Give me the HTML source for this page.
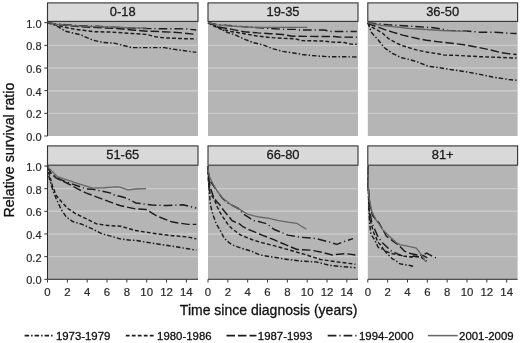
<!DOCTYPE html><html><head><meta charset="utf-8"><style>html,body{margin:0;padding:0;background:#fff;}svg{display:block;will-change:transform;}text{font-family:"Liberation Sans",sans-serif;}</style></head><body>
<svg width="520" height="343" viewBox="0 0 520 343">
<rect x="0" y="0" width="520" height="343" fill="#fff"/>
<rect x="47.5" y="21.4" width="150.5" height="114.60" fill="#b5b5b5"/>
<rect x="47.5" y="2.9" width="150.5" height="18.50" fill="#d9d9d9" stroke="#333333" stroke-width="1.1"/>
<text x="122.75" y="15.65" font-size="12.9" text-anchor="middle" fill="#1a1a1a" stroke="#1a1a1a" stroke-width="0.3">0-18</text>
<line x1="47.5" x2="198.0" y1="113.34" y2="113.34" stroke="#cbcbcb" stroke-width="1.4"/>
<line x1="47.5" x2="198.0" y1="90.68" y2="90.68" stroke="#cbcbcb" stroke-width="1.4"/>
<line x1="47.5" x2="198.0" y1="68.02" y2="68.02" stroke="#cbcbcb" stroke-width="1.4"/>
<line x1="47.5" x2="198.0" y1="45.36" y2="45.36" stroke="#cbcbcb" stroke-width="1.4"/>
<polyline points="47.50,22.70 52.46,23.83 57.42,26.44 61.39,28.70 65.36,31.20 70.32,32.44 75.28,33.46 80.24,34.60 84.20,36.41 93.13,40.26 103.05,42.41 113.96,43.09 122.89,45.36 131.82,47.63 164.56,47.63 172.49,49.10 181.42,50.35 192.33,51.82 196.30,52.38" fill="none" stroke="#1c1c1c" stroke-width="1.45" stroke-dasharray="4.5 2 1.5 2" stroke-linejoin="round"/>
<polyline points="47.50,22.70 57.42,25.53 68.83,28.03 76.27,29.50 83.21,30.29 95.12,31.76 110.00,31.99 118.92,32.56 131.82,33.46 141.74,34.03 146.70,34.48 155.63,36.75 161.58,37.54 167.53,38.00 184.40,38.68 196.30,38.90" fill="none" stroke="#1c1c1c" stroke-width="1.45" stroke-dasharray="3.8 2.2" stroke-linejoin="round"/>
<polyline points="47.50,22.70 57.42,24.40 67.34,25.53 80.24,26.67 97.10,27.57 116.94,28.59 131.82,29.95 146.70,31.20 159.60,31.54 170.51,32.10 182.41,32.90 193.32,34.14 196.30,34.37" fill="none" stroke="#1c1c1c" stroke-width="1.45" stroke-dasharray="8.5 3" stroke-linejoin="round"/>
<polyline points="47.50,22.70 57.42,24.06 77.26,25.53 97.10,26.33 116.94,27.46 131.82,28.14 146.70,28.59 166.54,28.70 186.38,28.93 196.30,30.06" fill="none" stroke="#1c1c1c" stroke-width="1.45" stroke-dasharray="8.7 3 1.2 3" stroke-linejoin="round"/>
<polyline points="47.50,22.70 57.42,24.40 77.26,25.87 97.10,26.67 116.94,27.23 131.82,27.80 146.70,28.14" fill="none" stroke="#666" stroke-width="1.3" stroke-linejoin="round"/>
<rect x="208.0" y="21.4" width="150.0" height="114.60" fill="#b5b5b5"/>
<rect x="208.0" y="2.9" width="150.0" height="18.50" fill="#d9d9d9" stroke="#333333" stroke-width="1.1"/>
<text x="283.00" y="15.65" font-size="12.9" text-anchor="middle" fill="#1a1a1a" stroke="#1a1a1a" stroke-width="0.3">19-35</text>
<line x1="208.0" x2="358.0" y1="113.34" y2="113.34" stroke="#cbcbcb" stroke-width="1.4"/>
<line x1="208.0" x2="358.0" y1="90.68" y2="90.68" stroke="#cbcbcb" stroke-width="1.4"/>
<line x1="208.0" x2="358.0" y1="68.02" y2="68.02" stroke="#cbcbcb" stroke-width="1.4"/>
<line x1="208.0" x2="358.0" y1="45.36" y2="45.36" stroke="#cbcbcb" stroke-width="1.4"/>
<polyline points="208.00,22.70 214.94,25.19 220.90,29.04 226.55,32.10 235.78,35.16 244.21,39.13 253.43,42.64 264.25,45.36 273.47,48.87 282.70,51.36 293.31,52.95 302.24,54.42 312.16,55.56 327.04,56.69 356.80,56.92" fill="none" stroke="#1c1c1c" stroke-width="1.45" stroke-dasharray="4.5 2 1.5 2" stroke-linejoin="round"/>
<polyline points="208.00,22.70 213.95,26.10 220.90,29.04 230.82,31.42 244.21,33.69 256.61,35.96 270.50,37.54 282.40,38.34 295.30,38.79 301.25,40.60 324.06,41.05 332.00,42.07 343.90,42.41 350.85,44.11 356.80,44.23" fill="none" stroke="#1c1c1c" stroke-width="1.45" stroke-dasharray="3.8 2.2" stroke-linejoin="round"/>
<polyline points="208.00,22.70 217.92,26.78 231.81,29.38 244.21,31.76 257.60,32.90 270.50,33.69 282.40,34.48 292.32,36.30 333.98,36.52 338.94,37.09 356.80,37.20" fill="none" stroke="#1c1c1c" stroke-width="1.45" stroke-dasharray="8.5 3" stroke-linejoin="round"/>
<polyline points="208.00,22.70 216.93,24.63 235.78,26.10 252.64,27.23 264.54,28.14 284.38,29.38 295.30,29.38 299.76,30.06 324.06,30.06 331.01,31.42 356.80,31.54" fill="none" stroke="#1c1c1c" stroke-width="1.45" stroke-dasharray="8.7 3 1.2 3" stroke-linejoin="round"/>
<polyline points="208.00,22.70 216.93,24.97 235.78,26.33 252.64,27.23 264.54,27.46 284.38,27.46 307.20,27.46" fill="none" stroke="#666" stroke-width="1.3" stroke-linejoin="round"/>
<rect x="367.8" y="21.4" width="149.8" height="114.60" fill="#b5b5b5"/>
<rect x="367.8" y="2.9" width="149.8" height="18.50" fill="#d9d9d9" stroke="#333333" stroke-width="1.1"/>
<text x="442.70" y="15.65" font-size="12.9" text-anchor="middle" fill="#1a1a1a" stroke="#1a1a1a" stroke-width="0.3">36-50</text>
<line x1="367.8" x2="517.6" y1="113.34" y2="113.34" stroke="#cbcbcb" stroke-width="1.4"/>
<line x1="367.8" x2="517.6" y1="90.68" y2="90.68" stroke="#cbcbcb" stroke-width="1.4"/>
<line x1="367.8" x2="517.6" y1="68.02" y2="68.02" stroke="#cbcbcb" stroke-width="1.4"/>
<line x1="367.8" x2="517.6" y1="45.36" y2="45.36" stroke="#cbcbcb" stroke-width="1.4"/>
<polyline points="367.80,22.70 371.27,32.33 378.22,39.92 384.17,47.51 392.20,53.29 401.63,57.82 409.46,59.52 418.39,62.24 428.31,66.32 439.22,67.68 451.72,69.72 466.01,71.76 479.90,74.36 492.79,77.08 508.66,79.46 516.60,80.26" fill="none" stroke="#1c1c1c" stroke-width="1.45" stroke-dasharray="4.5 2 1.5 2" stroke-linejoin="round"/>
<polyline points="367.80,22.70 370.78,26.67 377.12,29.95 382.88,33.46 388.63,38.68 396.96,43.43 402.72,45.70 406.49,46.95 416.41,49.89 426.33,52.04 439.22,53.97 443.59,54.99 459.86,55.56 479.90,56.69 500.73,57.48 516.60,58.05" fill="none" stroke="#1c1c1c" stroke-width="1.45" stroke-dasharray="3.8 2.2" stroke-linejoin="round"/>
<polyline points="367.80,22.70 371.77,24.97 379.41,27.57 384.17,29.38 393.39,32.33 402.72,35.16 418.39,38.68 426.33,40.26 439.22,41.85 451.72,43.21 464.02,44.79 475.93,46.95 488.82,49.55 500.73,52.61 510.65,53.97 516.60,54.42" fill="none" stroke="#1c1c1c" stroke-width="1.45" stroke-dasharray="8.5 3" stroke-linejoin="round"/>
<polyline points="367.80,22.70 377.72,23.83 387.64,24.74 403.51,25.76 418.39,26.78 433.27,27.69 441.21,28.93 448.15,30.40 466.01,30.97 479.90,32.22 494.78,32.22 510.65,33.24 516.60,33.46" fill="none" stroke="#1c1c1c" stroke-width="1.45" stroke-dasharray="8.7 3 1.2 3" stroke-linejoin="round"/>
<polyline points="367.80,22.70 372.76,23.83 382.68,25.53 395.28,26.89 410.46,28.48 426.33,29.50 441.21,30.52 457.08,31.08 467.00,31.20" fill="none" stroke="#666" stroke-width="1.3" stroke-linejoin="round"/>
<line x1="47.5" x2="47.5" y1="21.4" y2="136.0" stroke="#2b2b2b" stroke-width="1"/>
<line x1="44.3" x2="47.5" y1="136.00" y2="136.00" stroke="#333" stroke-width="1"/>
<text x="41.5" y="140.90" font-size="11" text-anchor="end" fill="#2a2a2a" stroke="#2a2a2a" stroke-width="0.2">0.0</text>
<line x1="44.3" x2="47.5" y1="113.34" y2="113.34" stroke="#333" stroke-width="1"/>
<text x="41.5" y="118.24" font-size="11" text-anchor="end" fill="#2a2a2a" stroke="#2a2a2a" stroke-width="0.2">0.2</text>
<line x1="44.3" x2="47.5" y1="90.68" y2="90.68" stroke="#333" stroke-width="1"/>
<text x="41.5" y="95.58" font-size="11" text-anchor="end" fill="#2a2a2a" stroke="#2a2a2a" stroke-width="0.2">0.4</text>
<line x1="44.3" x2="47.5" y1="68.02" y2="68.02" stroke="#333" stroke-width="1"/>
<text x="41.5" y="72.92" font-size="11" text-anchor="end" fill="#2a2a2a" stroke="#2a2a2a" stroke-width="0.2">0.6</text>
<line x1="44.3" x2="47.5" y1="45.36" y2="45.36" stroke="#333" stroke-width="1"/>
<text x="41.5" y="50.26" font-size="11" text-anchor="end" fill="#2a2a2a" stroke="#2a2a2a" stroke-width="0.2">0.8</text>
<line x1="44.3" x2="47.5" y1="22.70" y2="22.70" stroke="#333" stroke-width="1"/>
<text x="41.5" y="27.60" font-size="11" text-anchor="end" fill="#2a2a2a" stroke="#2a2a2a" stroke-width="0.2">1.0</text>
<rect x="47.5" y="165.2" width="150.5" height="114.10" fill="#b5b5b5"/>
<rect x="47.5" y="145.9" width="150.5" height="19.30" fill="#d9d9d9" stroke="#333333" stroke-width="1.1"/>
<text x="122.75" y="159.05" font-size="12.9" text-anchor="middle" fill="#1a1a1a" stroke="#1a1a1a" stroke-width="0.3">51-65</text>
<line x1="47.5" x2="198.0" y1="256.64" y2="256.64" stroke="#cbcbcb" stroke-width="1.4"/>
<line x1="47.5" x2="198.0" y1="233.98" y2="233.98" stroke="#cbcbcb" stroke-width="1.4"/>
<line x1="47.5" x2="198.0" y1="211.32" y2="211.32" stroke="#cbcbcb" stroke-width="1.4"/>
<line x1="47.5" x2="198.0" y1="188.66" y2="188.66" stroke="#cbcbcb" stroke-width="1.4"/>
<polyline points="47.50,166.00 48.49,175.06 52.76,190.25 56.33,198.97 61.49,209.96 66.25,216.98 72.60,221.52 82.22,224.35 91.84,228.65 101.46,233.53 112.77,236.70 119.92,238.85 128.84,239.98 135.59,240.44 151.66,243.04 172.49,246.22 188.17,248.82 196.30,250.07" fill="none" stroke="#1c1c1c" stroke-width="1.45" stroke-dasharray="4.5 2 1.5 2" stroke-linejoin="round"/>
<polyline points="47.50,166.00 49.29,174.61 52.76,186.85 56.33,195.46 61.49,201.69 67.84,208.49 75.87,213.81 85.39,218.34 96.60,223.90 107.81,225.48 120.71,226.28 135.59,230.58 151.66,233.07 172.49,235.68 188.17,237.04 196.30,238.85" fill="none" stroke="#1c1c1c" stroke-width="1.45" stroke-dasharray="3.8 2.2" stroke-linejoin="round"/>
<polyline points="47.50,166.00 50.48,172.80 56.33,178.12 66.84,183.00 77.26,188.66 85.79,192.85 91.84,195.12 104.64,199.99 119.92,205.54 135.59,208.94 146.10,209.51 156.62,215.97 172.49,222.08 188.17,224.35 196.30,224.35" fill="none" stroke="#1c1c1c" stroke-width="1.45" stroke-dasharray="8.5 3" stroke-linejoin="round"/>
<polyline points="47.50,166.00 50.48,172.80 56.33,177.90 66.84,182.20 77.26,185.71 85.79,189.00 92.54,189.23 110.00,192.85 115.95,195.91 119.92,196.25 126.86,198.29 135.59,202.94 151.66,204.98 167.14,205.54 182.91,204.75 196.30,208.15" fill="none" stroke="#1c1c1c" stroke-width="1.45" stroke-dasharray="8.7 3 1.2 3" stroke-linejoin="round"/>
<polyline points="47.50,166.00 48.69,167.93 57.42,176.65 74.98,182.54 92.54,188.09 104.24,187.75 115.95,186.85 119.92,187.19 127.85,189.79 135.59,189.00 146.10,188.66" fill="none" stroke="#666" stroke-width="1.3" stroke-linejoin="round"/>
<rect x="208.0" y="165.2" width="150.0" height="114.10" fill="#b5b5b5"/>
<rect x="208.0" y="145.9" width="150.0" height="19.30" fill="#d9d9d9" stroke="#333333" stroke-width="1.1"/>
<text x="283.00" y="159.05" font-size="12.9" text-anchor="middle" fill="#1a1a1a" stroke="#1a1a1a" stroke-width="0.3">66-80</text>
<line x1="208.0" x2="358.0" y1="256.64" y2="256.64" stroke="#cbcbcb" stroke-width="1.4"/>
<line x1="208.0" x2="358.0" y1="233.98" y2="233.98" stroke="#cbcbcb" stroke-width="1.4"/>
<line x1="208.0" x2="358.0" y1="211.32" y2="211.32" stroke="#cbcbcb" stroke-width="1.4"/>
<line x1="208.0" x2="358.0" y1="188.66" y2="188.66" stroke="#cbcbcb" stroke-width="1.4"/>
<polyline points="208.00,166.00 208.50,179.60 209.19,190.25 210.38,204.52 211.97,211.32 213.65,216.53 216.23,223.78 219.71,229.45 224.37,238.51 231.41,244.52 240.74,248.03 252.44,251.54 259.78,254.94 273.77,257.21 287.76,259.47 301.74,261.17 315.83,261.85 329.72,265.36 341.42,266.50 355.41,267.74" fill="none" stroke="#1c1c1c" stroke-width="1.45" stroke-dasharray="4.5 2 1.5 2" stroke-linejoin="round"/>
<polyline points="208.00,166.00 208.50,183.00 209.98,193.19 214.15,199.08 217.23,206.79 220.00,212.45 223.28,217.55 228.14,224.69 232.11,228.77 240.74,235.11 252.44,239.76 259.78,242.14 273.77,245.65 287.76,249.50 306.41,254.94 320.39,259.47 336.76,261.85 355.41,264.23" fill="none" stroke="#1c1c1c" stroke-width="1.45" stroke-dasharray="3.8 2.2" stroke-linejoin="round"/>
<polyline points="208.00,166.00 208.50,177.33 209.98,186.39 212.96,195.46 216.23,201.01 221.29,206.56 223.28,210.07 227.84,215.29 232.20,220.72 239.35,223.78 242.32,226.28 249.47,229.90 259.48,233.98 262.06,235.11 273.77,239.64 287.76,245.65 297.08,249.50 311.17,250.18 322.77,252.45 332.00,254.94 345.89,253.69 355.41,254.94" fill="none" stroke="#1c1c1c" stroke-width="1.45" stroke-dasharray="8.5 3" stroke-linejoin="round"/>
<polyline points="208.00,166.00 208.50,173.93 209.98,180.73 215.44,188.66 219.21,194.10 222.28,198.18 227.44,202.82 233.79,206.22 238.26,208.49 243.32,213.93 249.47,217.89 252.64,220.38 258.59,221.52 262.56,222.65 266.92,223.78 273.77,229.22 287.76,235.11 301.74,237.38 315.83,238.51 329.72,242.14 336.76,244.40 345.89,240.89 353.03,238.63" fill="none" stroke="#1c1c1c" stroke-width="1.45" stroke-dasharray="8.7 3 1.2 3" stroke-linejoin="round"/>
<polyline points="208.00,166.00 208.30,171.10 210.08,178.12 212.66,183.33 217.92,192.06 222.28,197.72 227.44,201.92 232.50,205.66 238.26,208.37 242.72,211.32 248.47,214.49 258.59,216.98 268.12,218.12 278.43,220.61 287.76,222.20 297.08,223.44 306.41,229.22" fill="none" stroke="#666" stroke-width="1.3" stroke-linejoin="round"/>
<rect x="367.8" y="165.2" width="149.8" height="114.10" fill="#b5b5b5"/>
<rect x="367.8" y="145.9" width="149.8" height="19.30" fill="#d9d9d9" stroke="#333333" stroke-width="1.1"/>
<text x="442.70" y="159.05" font-size="12.9" text-anchor="middle" fill="#1a1a1a" stroke="#1a1a1a" stroke-width="0.3">81+</text>
<line x1="367.8" x2="517.6" y1="256.64" y2="256.64" stroke="#cbcbcb" stroke-width="1.4"/>
<line x1="367.8" x2="517.6" y1="233.98" y2="233.98" stroke="#cbcbcb" stroke-width="1.4"/>
<line x1="367.8" x2="517.6" y1="211.32" y2="211.32" stroke="#cbcbcb" stroke-width="1.4"/>
<line x1="367.8" x2="517.6" y1="188.66" y2="188.66" stroke="#cbcbcb" stroke-width="1.4"/>
<polyline points="367.80,166.00 368.30,188.66 368.99,211.32 369.78,224.92 371.07,234.66 373.26,237.61 374.74,239.87 377.72,246.44 379.11,247.92 383.47,249.39 386.35,252.90 392.30,258.79 395.28,260.27 399.54,263.66 403.51,264.57 408.87,265.25 412.94,266.27 414.42,267.29" fill="none" stroke="#1c1c1c" stroke-width="1.45" stroke-dasharray="4.5 2 1.5 2" stroke-linejoin="round"/>
<polyline points="367.80,166.00 368.30,188.66 369.29,211.32 370.28,220.38 371.77,226.05 373.95,233.41 376.23,237.72 377.72,242.14 380.70,244.97 383.47,249.39 387.64,252.11 392.60,253.81 397.56,254.60 402.52,256.07 411.45,256.87 420.38,256.64 426.72,261.17" fill="none" stroke="#1c1c1c" stroke-width="1.45" stroke-dasharray="3.8 2.2" stroke-linejoin="round"/>
<polyline points="367.80,166.00 368.30,186.39 369.78,205.66 372.76,215.85 379.11,222.99 383.47,230.92 386.45,236.25 392.30,240.55 398.85,245.31 404.90,251.43 410.46,253.47 417.40,254.94 423.35,255.51 427.32,257.77" fill="none" stroke="#1c1c1c" stroke-width="1.45" stroke-dasharray="8.5 3" stroke-linejoin="round"/>
<polyline points="367.80,166.00 368.30,188.66 369.78,211.32 371.77,222.65 377.72,236.25 382.68,243.04 390.81,250.75 397.56,253.81 403.02,256.07 411.25,257.09 413.33,256.07 420.48,256.64 426.72,253.01 432.88,256.64 437.04,258.11" fill="none" stroke="#1c1c1c" stroke-width="1.45" stroke-dasharray="8.7 3 1.2 3" stroke-linejoin="round"/>
<polyline points="367.80,166.00 368.30,183.00 368.89,196.59 371.77,211.32 376.13,220.16 380.60,226.05 381.99,228.88 389.33,236.25 395.97,242.25 400.04,244.86 406.19,245.88 416.41,248.03 420.48,253.58 423.65,258.68 425.63,261.74" fill="none" stroke="#666" stroke-width="1.3" stroke-linejoin="round"/>
<line x1="47.5" x2="47.5" y1="165.2" y2="279.3" stroke="#2b2b2b" stroke-width="1"/>
<line x1="44.3" x2="47.5" y1="279.30" y2="279.30" stroke="#333" stroke-width="1"/>
<text x="41.5" y="284.20" font-size="11" text-anchor="end" fill="#2a2a2a" stroke="#2a2a2a" stroke-width="0.2">0.0</text>
<line x1="44.3" x2="47.5" y1="256.64" y2="256.64" stroke="#333" stroke-width="1"/>
<text x="41.5" y="261.54" font-size="11" text-anchor="end" fill="#2a2a2a" stroke="#2a2a2a" stroke-width="0.2">0.2</text>
<line x1="44.3" x2="47.5" y1="233.98" y2="233.98" stroke="#333" stroke-width="1"/>
<text x="41.5" y="238.88" font-size="11" text-anchor="end" fill="#2a2a2a" stroke="#2a2a2a" stroke-width="0.2">0.4</text>
<line x1="44.3" x2="47.5" y1="211.32" y2="211.32" stroke="#333" stroke-width="1"/>
<text x="41.5" y="216.22" font-size="11" text-anchor="end" fill="#2a2a2a" stroke="#2a2a2a" stroke-width="0.2">0.6</text>
<line x1="44.3" x2="47.5" y1="188.66" y2="188.66" stroke="#333" stroke-width="1"/>
<text x="41.5" y="193.56" font-size="11" text-anchor="end" fill="#2a2a2a" stroke="#2a2a2a" stroke-width="0.2">0.8</text>
<line x1="44.3" x2="47.5" y1="166.00" y2="166.00" stroke="#333" stroke-width="1"/>
<text x="41.5" y="170.90" font-size="11" text-anchor="end" fill="#2a2a2a" stroke="#2a2a2a" stroke-width="0.2">1.0</text>
<line x1="47.5" x2="198.0" y1="279.3" y2="279.3" stroke="#2b2b2b" stroke-width="1"/>
<line x1="47.50" x2="47.50" y1="279.3" y2="282.5" stroke="#333" stroke-width="1"/>
<text x="47.50" y="296.30" font-size="11.4" text-anchor="middle" fill="#2a2a2a" stroke="#2a2a2a" stroke-width="0.2">0</text>
<line x1="67.34" x2="67.34" y1="279.3" y2="282.5" stroke="#333" stroke-width="1"/>
<text x="67.34" y="296.30" font-size="11.4" text-anchor="middle" fill="#2a2a2a" stroke="#2a2a2a" stroke-width="0.2">2</text>
<line x1="87.18" x2="87.18" y1="279.3" y2="282.5" stroke="#333" stroke-width="1"/>
<text x="87.18" y="296.30" font-size="11.4" text-anchor="middle" fill="#2a2a2a" stroke="#2a2a2a" stroke-width="0.2">4</text>
<line x1="107.02" x2="107.02" y1="279.3" y2="282.5" stroke="#333" stroke-width="1"/>
<text x="107.02" y="296.30" font-size="11.4" text-anchor="middle" fill="#2a2a2a" stroke="#2a2a2a" stroke-width="0.2">6</text>
<line x1="126.86" x2="126.86" y1="279.3" y2="282.5" stroke="#333" stroke-width="1"/>
<text x="126.86" y="296.30" font-size="11.4" text-anchor="middle" fill="#2a2a2a" stroke="#2a2a2a" stroke-width="0.2">8</text>
<line x1="146.70" x2="146.70" y1="279.3" y2="282.5" stroke="#333" stroke-width="1"/>
<text x="146.70" y="296.30" font-size="11.4" text-anchor="middle" fill="#2a2a2a" stroke="#2a2a2a" stroke-width="0.2">10</text>
<line x1="166.54" x2="166.54" y1="279.3" y2="282.5" stroke="#333" stroke-width="1"/>
<text x="166.54" y="296.30" font-size="11.4" text-anchor="middle" fill="#2a2a2a" stroke="#2a2a2a" stroke-width="0.2">12</text>
<line x1="186.38" x2="186.38" y1="279.3" y2="282.5" stroke="#333" stroke-width="1"/>
<text x="186.38" y="296.30" font-size="11.4" text-anchor="middle" fill="#2a2a2a" stroke="#2a2a2a" stroke-width="0.2">14</text>
<line x1="208.0" x2="358.0" y1="279.3" y2="279.3" stroke="#2b2b2b" stroke-width="1"/>
<line x1="208.00" x2="208.00" y1="279.3" y2="282.5" stroke="#333" stroke-width="1"/>
<text x="208.00" y="296.30" font-size="11.4" text-anchor="middle" fill="#2a2a2a" stroke="#2a2a2a" stroke-width="0.2">0</text>
<line x1="227.84" x2="227.84" y1="279.3" y2="282.5" stroke="#333" stroke-width="1"/>
<text x="227.84" y="296.30" font-size="11.4" text-anchor="middle" fill="#2a2a2a" stroke="#2a2a2a" stroke-width="0.2">2</text>
<line x1="247.68" x2="247.68" y1="279.3" y2="282.5" stroke="#333" stroke-width="1"/>
<text x="247.68" y="296.30" font-size="11.4" text-anchor="middle" fill="#2a2a2a" stroke="#2a2a2a" stroke-width="0.2">4</text>
<line x1="267.52" x2="267.52" y1="279.3" y2="282.5" stroke="#333" stroke-width="1"/>
<text x="267.52" y="296.30" font-size="11.4" text-anchor="middle" fill="#2a2a2a" stroke="#2a2a2a" stroke-width="0.2">6</text>
<line x1="287.36" x2="287.36" y1="279.3" y2="282.5" stroke="#333" stroke-width="1"/>
<text x="287.36" y="296.30" font-size="11.4" text-anchor="middle" fill="#2a2a2a" stroke="#2a2a2a" stroke-width="0.2">8</text>
<line x1="307.20" x2="307.20" y1="279.3" y2="282.5" stroke="#333" stroke-width="1"/>
<text x="307.20" y="296.30" font-size="11.4" text-anchor="middle" fill="#2a2a2a" stroke="#2a2a2a" stroke-width="0.2">10</text>
<line x1="327.04" x2="327.04" y1="279.3" y2="282.5" stroke="#333" stroke-width="1"/>
<text x="327.04" y="296.30" font-size="11.4" text-anchor="middle" fill="#2a2a2a" stroke="#2a2a2a" stroke-width="0.2">12</text>
<line x1="346.88" x2="346.88" y1="279.3" y2="282.5" stroke="#333" stroke-width="1"/>
<text x="346.88" y="296.30" font-size="11.4" text-anchor="middle" fill="#2a2a2a" stroke="#2a2a2a" stroke-width="0.2">14</text>
<line x1="367.8" x2="517.6" y1="279.3" y2="279.3" stroke="#2b2b2b" stroke-width="1"/>
<line x1="367.80" x2="367.80" y1="279.3" y2="282.5" stroke="#333" stroke-width="1"/>
<text x="367.80" y="296.30" font-size="11.4" text-anchor="middle" fill="#2a2a2a" stroke="#2a2a2a" stroke-width="0.2">0</text>
<line x1="387.64" x2="387.64" y1="279.3" y2="282.5" stroke="#333" stroke-width="1"/>
<text x="387.64" y="296.30" font-size="11.4" text-anchor="middle" fill="#2a2a2a" stroke="#2a2a2a" stroke-width="0.2">2</text>
<line x1="407.48" x2="407.48" y1="279.3" y2="282.5" stroke="#333" stroke-width="1"/>
<text x="407.48" y="296.30" font-size="11.4" text-anchor="middle" fill="#2a2a2a" stroke="#2a2a2a" stroke-width="0.2">4</text>
<line x1="427.32" x2="427.32" y1="279.3" y2="282.5" stroke="#333" stroke-width="1"/>
<text x="427.32" y="296.30" font-size="11.4" text-anchor="middle" fill="#2a2a2a" stroke="#2a2a2a" stroke-width="0.2">6</text>
<line x1="447.16" x2="447.16" y1="279.3" y2="282.5" stroke="#333" stroke-width="1"/>
<text x="447.16" y="296.30" font-size="11.4" text-anchor="middle" fill="#2a2a2a" stroke="#2a2a2a" stroke-width="0.2">8</text>
<line x1="467.00" x2="467.00" y1="279.3" y2="282.5" stroke="#333" stroke-width="1"/>
<text x="467.00" y="296.30" font-size="11.4" text-anchor="middle" fill="#2a2a2a" stroke="#2a2a2a" stroke-width="0.2">10</text>
<line x1="486.84" x2="486.84" y1="279.3" y2="282.5" stroke="#333" stroke-width="1"/>
<text x="486.84" y="296.30" font-size="11.4" text-anchor="middle" fill="#2a2a2a" stroke="#2a2a2a" stroke-width="0.2">12</text>
<line x1="506.68" x2="506.68" y1="279.3" y2="282.5" stroke="#333" stroke-width="1"/>
<text x="506.68" y="296.30" font-size="11.4" text-anchor="middle" fill="#2a2a2a" stroke="#2a2a2a" stroke-width="0.2">14</text>
<text x="268.7" y="314.8" font-size="14" text-anchor="middle" fill="#111" stroke="#111" stroke-width="0.3">Time since diagnosis (years)</text>
<text transform="translate(13.6,150.1) rotate(-90)" font-size="14.2" text-anchor="middle" fill="#111" stroke="#111" stroke-width="0.3">Relative survival ratio</text>
<line x1="24.6" x2="54.6" y1="335.6" y2="335.6" stroke="#1c1c1c" stroke-width="1.65" stroke-dasharray="4.5 2 1.5 2"/>
<text x="55.900000000000006" y="339.6" font-size="11.4" fill="#111" stroke="#111" stroke-width="0.3">1973-1979</text>
<line x1="125.8" x2="155.8" y1="335.6" y2="335.6" stroke="#1c1c1c" stroke-width="1.65" stroke-dasharray="3.8 2.2"/>
<text x="157.1" y="339.6" font-size="11.4" fill="#111" stroke="#111" stroke-width="0.3">1980-1986</text>
<line x1="226.5" x2="256.5" y1="335.6" y2="335.6" stroke="#1c1c1c" stroke-width="1.65" stroke-dasharray="8.5 3"/>
<text x="257.8" y="339.6" font-size="11.4" fill="#111" stroke="#111" stroke-width="0.3">1987-1993</text>
<line x1="327.7" x2="357.7" y1="335.6" y2="335.6" stroke="#1c1c1c" stroke-width="1.65" stroke-dasharray="8.7 3 1.2 3"/>
<text x="359.0" y="339.6" font-size="11.4" fill="#111" stroke="#111" stroke-width="0.3">1994-2000</text>
<line x1="427.8" x2="457.8" y1="335.6" y2="335.6" stroke="#666" stroke-width="1.50"/>
<text x="459.1" y="339.6" font-size="11.4" fill="#111" stroke="#111" stroke-width="0.3">2001-2009</text>
</svg></body></html>
